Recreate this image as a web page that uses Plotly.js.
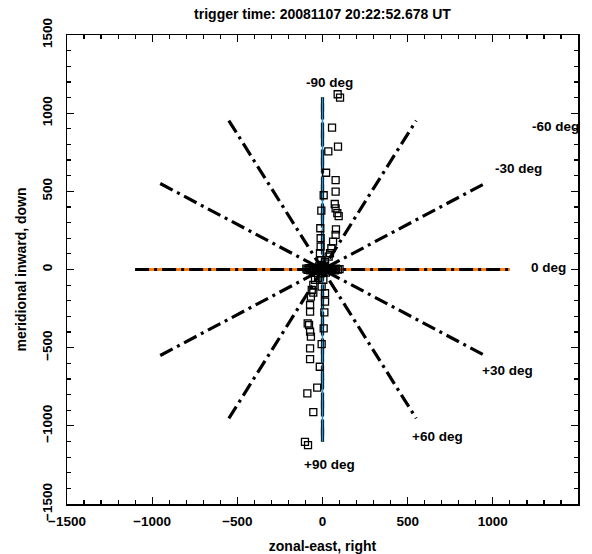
<!DOCTYPE html>
<html>
<head>
<meta charset="utf-8">
<script src="https://cdn.plot.ly/plotly-3.0.1.min.js"></script>
<style>html,body{margin:0;padding:0;background:#fff;}#chart{width:592px;height:554px;}</style>
</head>
<body>
<div id="chart"></div>
<script>
// ---- data ----
const titleText = 'trigger time: 20081107 20:22:52.678 UT';
const xTitle = 'zonal-east, right';
const yTitle = 'meridional inward, down';
const rayAngles = [0, -30, -60, -90, 30, 60, 90];     // degrees
const rayLength = 1100;                                 // data units
const labelText = ['-90 deg', '-60 deg', '-30 deg', '0 deg', '+30 deg', '+60 deg', '+90 deg'];
const labelX = [44, 1365, 1148, 1324, 1089, 678, 44];
const labelY = [1193, 912, 643, 16, -649, -1065, -1250];
const sqX = [89,103,56,91,34,21,77,77,7,72,77,87,95,-7,79,-13,77,62,-11,-11,-15,52,44,36,15,-8,-5,
  -54,-68,15,15,-73,-73,-87,-79,-73,-68,11,7,-5,-73,-73,-16,-31,-89,-54,-103,-85,5,-5,-44,-54,-63,-26,
  -95,-88,-80,-72,-64,-56,-48,-40,-32,-24,-16,-8,0,8,16,24,32,40,48,56,64,72,80,90,100,-20,20,10,-10];
const sqY = [1121,1099,907,786,756,619,572,498,475,419,391,360,342,376,257,264,221,178,200,146,104,136,104,82,48,60,30,
  -148,-174,-152,-206,-227,-270,-344,-355,-398,-430,-274,-376,-477,-504,-573,-622,-756,-792,-912,-1102,-1123,-67,-110,-67,-99,-131,-54,
  5,-3,8,-5,6,-8,4,-4,10,-2,6,-6,2,-3,7,-5,4,-2,8,-4,3,-6,5,0,3,20,-20,25,-25];

// ---- build ----
const traces = [];
const dd = '14px,5px,3px,5px';
// orange base under horizontal line
traces.push({x:[-rayLength, rayLength], y:[0,0], mode:'lines', line:{color:'#ff7f0e', width:3}, hoverinfo:'skip', showlegend:false});
rayAngles.forEach(a => {
  const r = a * Math.PI / 180;
  const ex = rayLength * Math.cos(r), ey = -rayLength * Math.sin(r);
  traces.push({x:[-ex, ex], y:[-ey, ey], mode:'lines', line:{color:'black', width:3.2, dash:dd}, hoverinfo:'skip', showlegend:false});
});
// blue over vertical line
traces.push({x:[0,0], y:[-rayLength, rayLength], mode:'lines', line:{color:'#1f96d4', width:1.5}, hoverinfo:'skip', showlegend:false});
traces.push({x:sqX, y:sqY, mode:'markers', marker:{symbol:'square-open', size:7, color:'black', line:{width:1.3, color:'black'}}, showlegend:false});

const F = (s) => ({family:'Liberation Sans, Arial, sans-serif', size:s, color:'black', weight:'bold'});
const axisCommon = {
  range:[-1500,1500], dtick:500, tick0:0, ticks:'inside', ticklen:7, tickwidth:1.3, tickcolor:'black',
  showline:true, linecolor:'black', linewidth:1.5, mirror:'allticks', showgrid:false, zeroline:false,
  minor:{dtick:100, ticks:'inside', ticklen:4, tickwidth:1.2, tickcolor:'black'},
  fixedrange:true
};
const layout = {
  width:592, height:554,
  margin:{l:67, r:14, t:35, b:50},
  paper_bgcolor:'white', plot_bgcolor:'white',
  title:{text:titleText, font:F(14), xref:'paper', x:0.5, xanchor:'center', yref:'container', y:0.974, yanchor:'middle'},
  xaxis:Object.assign({}, axisCommon, {tickfont:F(13.5), ticklabelstandoff:4, title:{text:xTitle, font:F(14), standoff:13}}),
  yaxis:Object.assign({}, axisCommon, {tickfont:F(13.5), tickangle:-90, ticklabelstandoff:8, title:{text:yTitle, font:F(14), standoff:10}}),
  annotations: labelText.map((t,i)=>({x:labelX[i], y:labelY[i], xref:'x', yref:'y', text:t, showarrow:false, font:F(13.5), xanchor:'center', yanchor:'middle'})),
  showlegend:false
};
Plotly.newPlot('chart', traces, layout, {displayModeBar:false, staticPlot:true});
</script>
</body>
</html>
